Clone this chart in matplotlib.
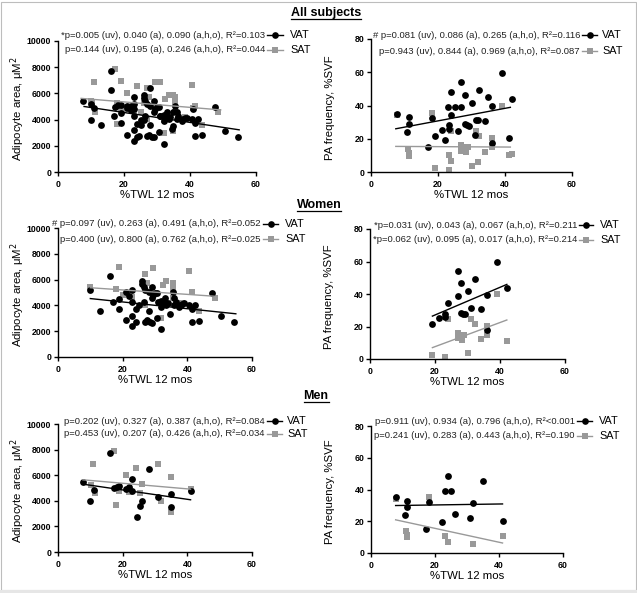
import matplotlib

matplotlib.use("Agg")
import matplotlib.pyplot as plt
from matplotlib.lines import Line2D
from matplotlib.patches import Rectangle

plt.rcParams["font.family"] = ["Liberation Sans", "DejaVu Sans"]

# --- adipocyte area, women ---
women_area_vat_x = [10, 13, 16, 17, 19, 19, 21, 21, 22, 23, 23, 23, 23, 24, 24, 25, 26, 26, 26.5, 26.5,
                    27, 27, 27.5, 28, 28, 28.5, 29, 29, 29, 29.5, 30, 30.5, 30.5, 31, 32, 32, 32, 32.5,
                    33, 33.5, 34, 34.5, 35.5, 36, 36, 36.5, 37.5, 38, 38.5, 39, 40.5, 41.5, 41.5, 42.5,
                    43.5, 47.5, 50.5, 54.5]
women_area_vat_y = [5200, 3550, 6250, 4300, 4500, 3750, 5050, 2850, 4700, 5200, 4250, 3200, 2400, 2700,
                    3700, 4000, 5900, 5650, 5450, 4300, 5200, 2750, 2850, 5050, 3600, 2700, 4550, 2650,
                    5400, 4800, 4950, 5000, 3050, 4250, 4350, 2150, 3900, 4300, 4550, 4050, 4200, 3300,
                    5050, 4600, 4050, 4300, 3900, 4050, 4100, 4150, 4050, 3750, 2750, 4050, 2800, 4950,
                    3150, 2700]
women_area_sat_x = [10, 18, 19, 20, 23, 27, 27.5, 27, 29.5, 29.5, 32, 32.5, 33.5, 35.5, 35.5, 35.5,
                    38.5, 40.5, 41.5, 43.5, 48.5]
women_area_sat_y = [5400, 5250, 6950, 4800, 4650, 6400, 5700, 4050, 6900, 4850, 3000, 5550, 5900, 5750,
                    5300, 4550, 4200, 6650, 5050, 3600, 4600]

# --- adipocyte area, men ---
men_area_vat_x = [7.7, 10, 11, 16, 17.3, 18.2, 19, 21, 22, 23, 23, 24.5, 25.3, 26, 28, 31, 35, 35, 41]
men_area_vat_y = [5450, 4000, 4850, 7700, 5000, 5100, 5150, 4900, 5050, 5700, 4800, 2750, 3600, 4000,
                  6450, 4300, 4550, 3500, 4800]
men_area_sat_x = [10.3, 10.8, 11.3, 17.3, 18, 19, 21, 22, 24, 25.3, 26, 31, 32, 35, 35, 41]
men_area_sat_y = [5250, 6900, 4600, 7900, 3700, 4800, 6000, 4700, 6600, 4600, 5300, 6900, 3950, 5850,
                  3150, 4900]

# --- PA frequency, women ---
women_pa_vat_x = [19.2, 21.2, 23.2, 23.2, 24, 27, 27, 28, 28, 28.6, 29.2, 30.2, 31.2, 32.2, 34, 36, 36,
                  39, 42]
women_pa_vat_y = [21.5, 25, 28, 26, 34.3, 54.3, 38.8, 46.6, 28.6, 28, 27.5, 41.7, 31.2, 49.2, 30.8, 39.4,
                  17.6, 59.5, 43.9]
women_pa_sat_x = [19.2, 23.2, 24, 27, 27, 28, 28.4, 29, 30.2, 31.2, 32.2, 34, 36, 36, 39, 42]
women_pa_sat_y = [2.5, 1.4, 24.5, 16, 12.7, 14.8, 12, 14.8, 3.5, 24.8, 21.4, 12.3, 20.2, 14.9, 39.9, 11]

# --- PA frequency, men ---
men_pa_vat_x = [7.7, 11.2, 11.2, 10.7, 17.1, 18.2, 22.1, 23, 24, 25.1, 26.1, 31, 32, 35, 41.1]
men_pa_vat_y = [35, 33, 28.8, 24, 15, 32.4, 19.4, 39, 48.4, 39, 24.6, 22.3, 31.3, 45.3, 20.3]
men_pa_sat_x = [7.7, 10.9, 11.2, 11.4, 18.2, 23.2, 24, 32, 41.1]
men_pa_sat_y = [34, 13.6, 11.5, 9.8, 35.2, 10.4, 6.9, 5.8, 10.4]

# regression lines as drawn: (x_start, x_end), (y_start, y_end)
fit_all_area_vat = ([7.9, 54.9], [5000, 3220])
fit_all_area_sat = ([7.0, 49.3], [5620, 4740])
fit_women_area_vat = ([10, 55], [4530, 3350])
fit_women_area_sat = ([10, 49], [5370, 4700])
fit_men_area_vat = ([7.7, 41], [5300, 4080])
fit_men_area_sat = ([7.7, 41], [5640, 4910])
fit_all_pa_vat = ([7.4, 41.6], [26, 38.9])
fit_all_pa_sat = ([7.4, 41.6], [15.4, 15])
fit_women_pa_vat = ([19.2, 42.1], [26.4, 45.9])
fit_women_pa_sat = ([19.2, 42.1], [7, 24])
fit_men_pa_vat = ([7.7, 41.1], [29.9, 30.9])
fit_men_pa_sat = ([7.7, 41.1], [20.9, 6.3])

stats = {
    "all_area": ["*p=0.005 (uv), 0.040 (a), 0.090 (a,h,o), R²=0.103",
                 "p=0.144 (uv), 0.195 (a), 0.246 (a,h,o), R²=0.044"],
    "all_pa": ["# p=0.081 (uv), 0.086 (a), 0.265 (a,h,o), R²=0.116",
               "p=0.943 (uv), 0.844 (a), 0.969 (a,h,o), R²=0.087"],
    "women_area": ["# p=0.097 (uv), 0.263 (a), 0.491 (a,h,o), R²=0.052",
                   "p=0.400 (uv), 0.800 (a), 0.762 (a,h,o), R²=0.025"],
    "women_pa": ["*p=0.031 (uv), 0.043 (a), 0.067 (a,h,o), R²=0.211",
                 "*p=0.062 (uv), 0.095 (a), 0.017 (a,h,o), R²=0.214"],
    "men_area": ["p=0.202 (uv), 0.327 (a), 0.387 (a,h,o), R²=0.084",
                 "p=0.453 (uv), 0.207 (a), 0.426 (a,h,o), R²=0.034"],
    "men_pa": ["p=0.911 (uv), 0.934 (a), 0.796 (a,h,o), R²<0.001",
               "p=0.241 (uv), 0.283 (a), 0.443 (a,h,o), R²=0.190"],
}

sections = [("All subjects", 326, 13), ("Women", 319, 205), ("Men", 316, 396)]

W, H = 637, 593
GRAY = "#999999"

fig = plt.figure(figsize=(W / 100, H / 100), dpi=100)


def fx(px):
    return px / W


def fy(py):
    return 1 - py / H


def panel(rect, ymax, ylabel, ylabel_x, vat, sat, fit_vat, fit_sat, texts, rows, text_right, handle,
          label_x):
    left, right, top, bottom = rect
    ax = fig.add_axes([fx(left), fy(bottom), (right - left) / W, (bottom - top) / H])
    ax.scatter(sat[0], sat[1], marker="s", s=22, color=GRAY, linewidths=0, zorder=2)
    ax.scatter(vat[0], vat[1], marker="o", s=24, color="black", linewidths=0, zorder=3)
    ax.plot(fit_sat[0], fit_sat[1], color=GRAY, lw=1.0, zorder=4)
    ax.plot(fit_vat[0], fit_vat[1], color="black", lw=1.0, zorder=4)

    ax.set_xlim(0, 60)
    ax.set_ylim(0, ymax)
    ax.set_xticks([0, 20, 40, 60])
    ax.set_yticks(range(0, ymax + 1, ymax // 4 if ymax == 80 else 2000))
    for side in ("top", "right"):
        ax.spines[side].set_visible(False)
    for side in ("left", "bottom"):
        ax.spines[side].set_linewidth(1.0)
    ax.tick_params(direction="out", length=3, width=1.0, labelsize=6.3, pad=1.8)
    ax.tick_params(axis="x", pad=2.5)
    for lab in ax.get_xticklabels() + ax.get_yticklabels():
        lab.set_fontweight("bold")

    ax.set_ylabel(ylabel, fontsize=8.2, va="center")
    ax.yaxis.set_label_coords((ylabel_x - left) / (right - left), 0.48)
    ax.set_xlabel("%TWL 12 mos", fontsize=8.2, va="center")
    ax.xaxis.set_label_coords(0.5, -23 / (bottom - top))

    for txt, ypx, col, mk, name in zip(texts, rows, ["black", GRAY], ["o", "s"], ["VAT", "SAT"]):
        fig.text(fx(text_right), fy(ypx), txt, ha="right", va="center", fontsize=6.8, color="#222222")
        x0, x1 = handle
        fig.add_artist(Line2D([fx(x0), fx((x0 + x1) / 2), fx(x1)], [fy(ypx)] * 3,
                              color=col, lw=1.0, marker=mk, markersize=4.8, markevery=[1],
                              markeredgewidth=0, transform=fig.transFigure))
        fig.text(fx(label_x), fy(ypx), name, ha="left", va="center", fontsize=7.8)
    return ax


area_label = "Adipocyte area, μM$^2$"
pa_label = "PA frequency, %SVF"

panel((58, 256, 41, 172), 10000, area_label, 18,
      (women_area_vat_x + men_area_vat_x, women_area_vat_y + men_area_vat_y),
      (women_area_sat_x + men_area_sat_x, women_area_sat_y + men_area_sat_y),
      fit_all_area_vat, fit_all_area_sat, stats["all_area"], (35, 50), 265, (267, 283), 290)
panel((371, 572, 39, 172), 80, pa_label, 330,
      (women_pa_vat_x + men_pa_vat_x, women_pa_vat_y + men_pa_vat_y),
      (women_pa_sat_x + men_pa_sat_x, women_pa_sat_y + men_pa_sat_y),
      fit_all_pa_vat, fit_all_pa_sat, stats["all_pa"], (35, 51), 580, (582, 597), 602)
panel((58, 252, 228, 357), 10000, area_label, 18,
      (women_area_vat_x, women_area_vat_y), (women_area_sat_x, women_area_sat_y),
      fit_women_area_vat, fit_women_area_sat, stats["women_area"], (224, 239), 261, (263, 278), 285)
panel((370, 565, 229, 359), 80, pa_label, 329,
      (women_pa_vat_x, women_pa_vat_y), (women_pa_sat_x, women_pa_sat_y),
      fit_women_pa_vat, fit_women_pa_sat, stats["women_pa"], (225, 240), 577, (579, 593), 600)
panel((58, 252, 424, 552), 10000, area_label, 18,
      (men_area_vat_x, men_area_vat_y), (men_area_sat_x, men_area_sat_y),
      fit_men_area_vat, fit_men_area_sat, stats["men_area"], (421, 434), 265, (267, 282), 287)
panel((371, 563, 426, 553), 80, pa_label, 330,
      (men_pa_vat_x, men_pa_vat_y), (men_pa_sat_x, men_pa_sat_y),
      fit_men_pa_vat, fit_men_pa_sat, stats["men_pa"], (421, 436), 575, (577, 592), 599)

# underlined section headings
titles = [fig.text(fx(x), fy(y), name, ha="center", va="center", fontsize=9, fontweight="bold")
          for name, x, y in sections]
fig.canvas.draw()
renderer = fig.canvas.get_renderer()
for t, (_, _, y) in zip(titles, sections):
    bb = t.get_window_extent(renderer)
    fig.add_artist(Line2D([bb.x0 / W, bb.x1 / W], [fy(y + 6)] * 2, color="black", lw=0.9,
                          transform=fig.transFigure))

# frame round the figure
fig.add_artist(Rectangle((fx(1.5), fy(589.5)), 634 / W, 588 / H, transform=fig.transFigure,
                         fill=False, edgecolor="#bdbdbd", lw=0.8))
fig.add_artist(Rectangle((0, 0), 1, 3.5 / H, transform=fig.transFigure, color="#e6e6e6", lw=0))

fig.savefig("out.png", dpi=100)
plt.close(fig)
